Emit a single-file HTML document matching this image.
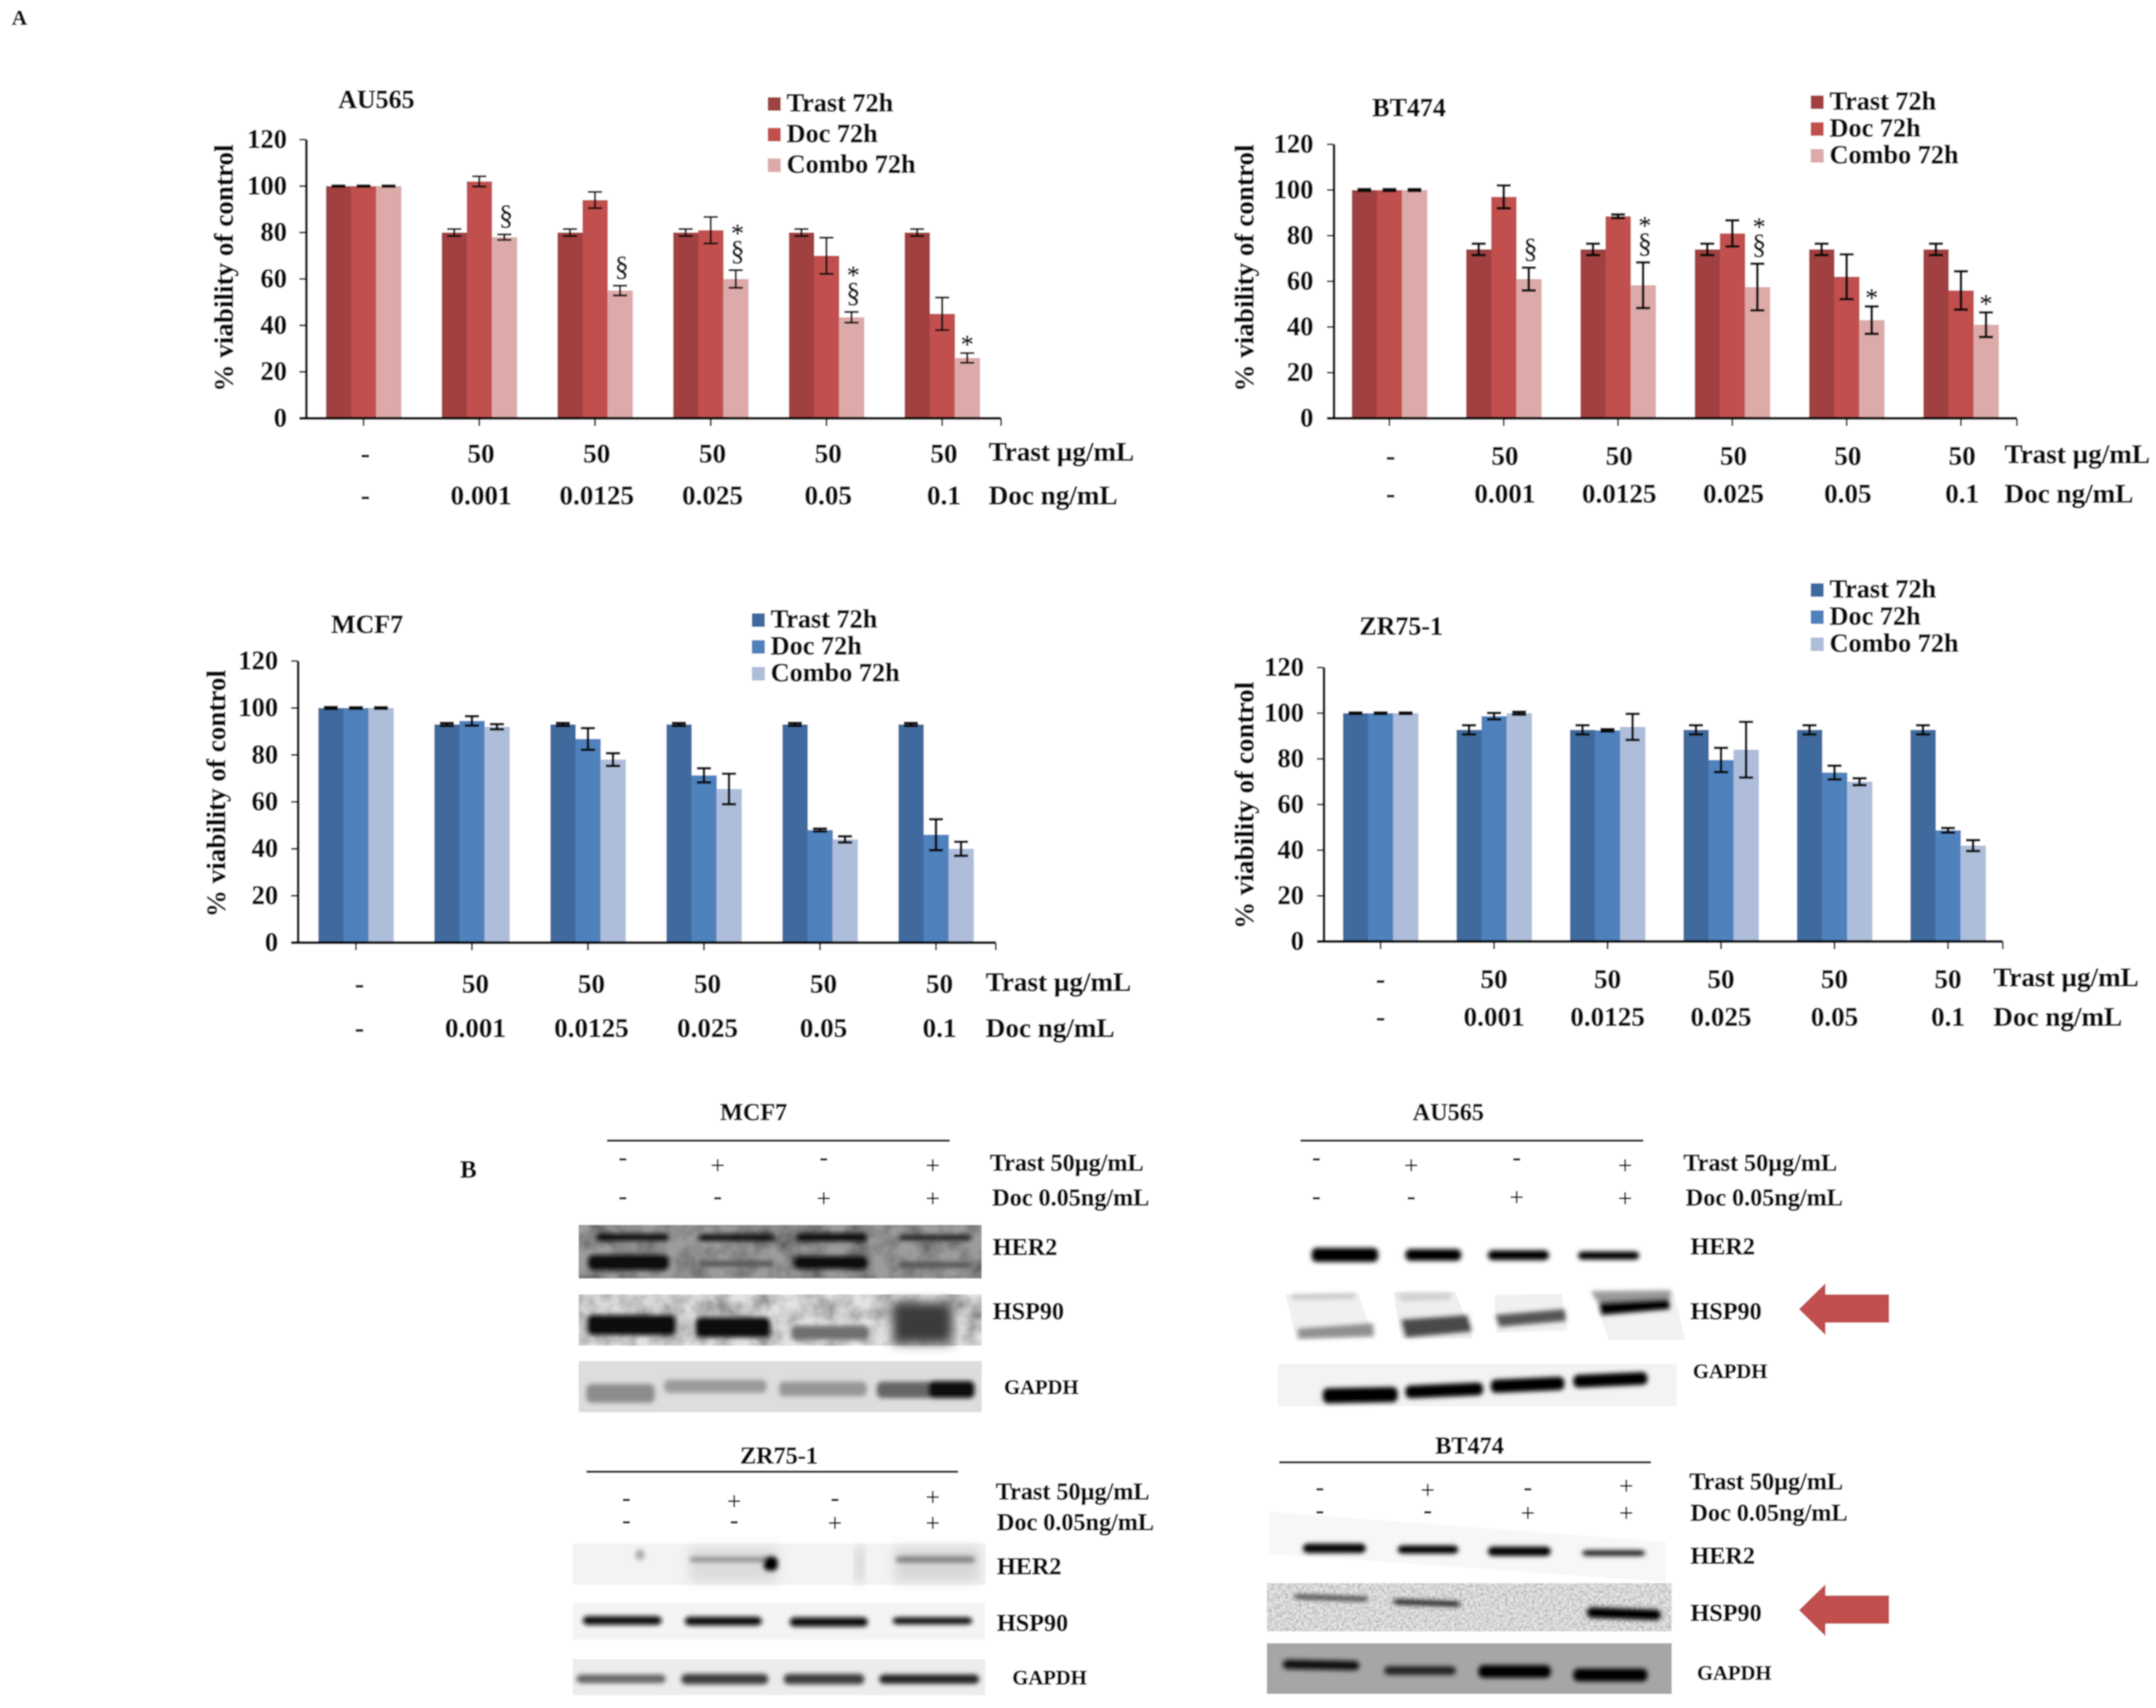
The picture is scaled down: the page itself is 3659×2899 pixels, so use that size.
<!DOCTYPE html>
<html lang="en">
<head>
<meta charset="utf-8">
<title>Viability and western blot figure</title>
<style>
html,body{margin:0;padding:0;background:#fff;width:3659px;height:2899px;overflow:hidden}
svg{display:block}
text{font-family:"Liberation Serif",serif;font-weight:bold;fill:#0c0c0c;stroke:#0c0c0c;stroke-width:.8px}
.w{font-size:41px}
.g{font-size:35px}
.sym{font-size:42px;font-weight:normal;text-anchor:middle}
g[filter="url(#b3)"] rect{rx:9px;ry:9px}
</style>
</head>
<body>
<svg id="figure" xmlns="http://www.w3.org/2000/svg" width="3659" height="2899" viewBox="0 0 3659 2899">
<defs>
<filter id="soft" filterUnits="userSpaceOnUse" x="0" y="0" width="3659" height="2899"><feGaussianBlur stdDeviation="1"/></filter>
<filter id="b3" x="-20%" y="-60%" width="140%" height="220%"><feGaussianBlur stdDeviation="4"/></filter>
<filter id="b8" x="-30%" y="-30%" width="160%" height="160%"><feGaussianBlur stdDeviation="9"/></filter>
<filter id="grainCoarse" x="0" y="0" width="100%" height="100%"><feTurbulence type="fractalNoise" baseFrequency="0.025" numOctaves="3" seed="4" result="n"/><feColorMatrix in="n" type="matrix" values="0 0 0 0 0 0 0 0 0 0 0 0 0 0 0 1.3 0 0 0 -0.45" result="d"/><feComposite in="d" in2="SourceGraphic" operator="in" result="c"/><feMerge><feMergeNode in="SourceGraphic"/><feMergeNode in="c"/></feMerge></filter>
<filter id="grainFine" x="0" y="0" width="100%" height="100%"><feTurbulence type="fractalNoise" baseFrequency="0.22" numOctaves="2" seed="9" result="n"/><feColorMatrix in="n" type="matrix" values="0 0 0 0 0 0 0 0 0 0 0 0 0 0 0 0.9 0 0 0 -0.3" result="d"/><feComposite in="d" in2="SourceGraphic" operator="in" result="c"/><feMerge><feMergeNode in="SourceGraphic"/><feMergeNode in="c"/></feMerge></filter>
</defs>
<g id="root" filter="url(#soft)">
<rect width="3659" height="2899" fill="#fff"/>
<text x="20" y="42" font-size="36">A</text>
<text x="781" y="1999" font-size="42">B</text>

<!-- MCF7 blots -->
<g>
<text x="1279" y="1901" class="w" text-anchor="middle">MCF7</text>
<rect x="1030" y="1934" width="582" height="4" fill="#111"/>
<text x="1057" y="1978" class="sym">-</text>
<text x="1218" y="1992" class="sym">+</text>
<text x="1398" y="1978" class="sym">-</text>
<text x="1583" y="1992" class="sym">+</text>
<text x="1057" y="2044" class="sym">-</text>
<text x="1218" y="2044" class="sym">-</text>
<text x="1398" y="2048" class="sym">+</text>
<text x="1583" y="2048" class="sym">+</text>
<text x="1680" y="1987" class="w">Trast 50µg/mL</text>
<text x="1684" y="2046" class="w">Doc 0.05ng/mL</text>
<g>
<rect x="982" y="2079" width="684" height="91" fill="#9c9c9c" filter="url(#grainCoarse)"/>
<g filter="url(#b3)" fill="#0c0c0c">
<rect x="1011" y="2094" width="125" height="12"/><rect x="1185" y="2095" width="129" height="11"/><rect x="1351" y="2093" width="120" height="14"/><rect x="1525" y="2096" width="125" height="9" fill="#222"/>
<rect x="998" y="2130" width="137" height="26"/><rect x="1185" y="2140" width="129" height="10" fill="#555"/><rect x="1347" y="2132" width="125" height="22"/><rect x="1525" y="2142" width="125" height="10" fill="#555"/>
</g></g>
<text x="1685" y="2130" class="w">HER2</text>
<g>
<rect x="982" y="2197" width="684" height="87" fill="#e2e2e2" filter="url(#grainCoarse)"/>
<g filter="url(#b3)" fill="#0a0a0a">
<rect x="997" y="2232" width="149" height="34"/><rect x="1181" y="2236" width="126" height="34"/><rect x="1343" y="2250" width="132" height="24" fill="#707070"/>
</g>
<rect x="1515" y="2210" width="100" height="70" fill="#3a3a3a" filter="url(#b8)"/>
</g>
<text x="1685" y="2239" class="w">HSP90</text>
<g>
<rect x="982" y="2310" width="684" height="87" fill="#dddddd"/>
<g filter="url(#b3)">
<rect x="995" y="2349" width="116" height="32" fill="#8c8c8c"/><rect x="1127" y="2342" width="174" height="22" fill="#9a9a9a"/><rect x="1322" y="2345" width="149" height="25" fill="#979797"/><rect x="1488" y="2345" width="100" height="28" fill="#666"/><rect x="1575" y="2344" width="79" height="29" fill="#0a0a0a"/>
</g></g>
<text x="1704" y="2366" class="g">GAPDH</text>
</g>

<!-- ZR75-1 blots -->
<g>
<text x="1322" y="2484" class="w" text-anchor="middle">ZR75-1</text>
<rect x="995" y="2496" width="631" height="4" fill="#111"/>
<text x="1063" y="2556" class="sym">-</text>
<text x="1246" y="2562" class="sym">+</text>
<text x="1417" y="2556" class="sym">-</text>
<text x="1583" y="2555" class="sym">+</text>
<text x="1063" y="2594" class="sym">-</text>
<text x="1246" y="2594" class="sym">-</text>
<text x="1417" y="2599" class="sym">+</text>
<text x="1583" y="2599" class="sym">+</text>
<text x="1690" y="2545" class="w">Trast 50µg/mL</text>
<text x="1692" y="2597" class="w">Doc 0.05ng/mL</text>
<g>
<rect x="972" y="2620" width="700" height="70" fill="#f3f3f3"/>
<rect x="1170" y="2625" width="150" height="60" fill="#dcdcdc" filter="url(#b8)"/><rect x="1518" y="2625" width="145" height="60" fill="#d8d8d8" filter="url(#b8)"/><rect x="1452" y="2625" width="14" height="60" fill="#d0d0d0" filter="url(#b8)"/>
<g filter="url(#b3)">
<rect x="1170" y="2643" width="140" height="8" fill="#8a8a8a"/><rect x="1520" y="2642" width="135" height="10" fill="#7c7c7c"/><rect x="1296" y="2642" width="24" height="24" fill="#000"/><rect x="1078" y="2630" width="16" height="18" fill="#aaa"/>
</g></g>
<text x="1692" y="2672" class="w">HER2</text>
<g>
<rect x="972" y="2720" width="700" height="63" fill="#f4f4f4"/>
<g filter="url(#b3)" fill="#0c0c0c">
<rect x="989" y="2743" width="134" height="15"/><rect x="1162" y="2744" width="131" height="15"/><rect x="1340" y="2745" width="133" height="16"/><rect x="1515" y="2745" width="135" height="12"/>
</g></g>
<text x="1692" y="2768" class="w">HSP90</text>
<g>
<rect x="972" y="2816" width="700" height="61" fill="#ececec"/>
<g filter="url(#b3)">
<rect x="978" y="2842" width="152" height="15" fill="#666"/><rect x="1156" y="2841" width="148" height="18" fill="#3c3c3c"/><rect x="1330" y="2841" width="137" height="18" fill="#3c3c3c"/><rect x="1492" y="2842" width="170" height="16" fill="#222"/>
</g></g>
<text x="1718" y="2859" class="g">GAPDH</text>
</g>

<!-- AU565 blots -->
<g>
<text x="2458" y="1901" class="w" text-anchor="middle">AU565</text>
<rect x="2207" y="1934" width="582" height="4" fill="#111"/>
<text x="2234" y="1978" class="sym">-</text>
<text x="2395" y="1992" class="sym">+</text>
<text x="2574" y="1978" class="sym">-</text>
<text x="2758" y="1992" class="sym">+</text>
<text x="2234" y="2044" class="sym">-</text>
<text x="2395" y="2044" class="sym">-</text>
<text x="2574" y="2046" class="sym">+</text>
<text x="2758" y="2048" class="sym">+</text>
<text x="2857" y="1987" class="w">Trast 50µg/mL</text>
<text x="2861" y="2046" class="w">Doc 0.05ng/mL</text>
<g filter="url(#b3)" fill="#060606">
<rect x="2226" y="2118" width="113" height="24"/><rect x="2385" y="2120" width="95" height="20"/><rect x="2525" y="2122" width="104" height="17"/><rect x="2678" y="2124" width="104" height="14"/>
</g>
<text x="2869" y="2129" class="w">HER2</text>
<g>
<polygon points="2182,2197 2305,2195 2330,2270 2200,2274" fill="#f0f0f0"/>
<polygon points="2365,2193 2470,2193 2500,2272 2378,2272" fill="#eeeeee"/>
<polygon points="2536,2198 2650,2196 2660,2258 2540,2262" fill="#f0f0f0"/>
<polygon points="2700,2190 2840,2190 2860,2274 2730,2274" fill="#f2f2f2"/>
<g filter="url(#b3)">
<polygon points="2190,2197 2300,2195 2300,2204 2195,2206" fill="#c8c8c8"/>
<polygon points="2372,2195 2462,2195 2462,2206 2378,2208" fill="#cfcfcf"/>
<polygon points="2202,2255 2330,2246 2332,2268 2204,2272" fill="#8f8f8f"/>
<polygon points="2378,2240 2490,2232 2498,2260 2386,2270" fill="#4a4a4a"/>
<polygon points="2538,2232 2655,2222 2658,2242 2545,2252" fill="#555"/>
<polygon points="2714,2210 2832,2200 2834,2222 2718,2232" fill="#050505"/>
<polygon points="2700,2192 2835,2190 2835,2204 2712,2210" fill="#9a9a9a"/>
</g></g>
<text x="2869" y="2239" class="w">HSP90</text>
<path d="M3053 2222 L3098 2178 V2197 H3206 V2245 H3098 V2266 Z" fill="#c0504d"/>
<g>
<rect x="2169" y="2315" width="677" height="72" fill="#f3f3f3"/>
<g filter="url(#b3)" fill="#050505">
<rect x="2245" y="2355" width="127" height="26" transform="rotate(-1 2308 2368)"/><rect x="2385" y="2349" width="132" height="22" transform="rotate(-2.5 2451 2360)"/><rect x="2530" y="2339" width="125" height="23" transform="rotate(-2.5 2592 2351)"/><rect x="2670" y="2331" width="126" height="22" transform="rotate(-2.5 2733 2343)"/>
</g></g>
<text x="2873" y="2339" class="g">GAPDH</text>
</g>

<!-- BT474 blots -->
<g>
<text x="2494" y="2467" class="w" text-anchor="middle">BT474</text>
<rect x="2171" y="2480" width="631" height="4" fill="#111"/>
<text x="2240" y="2538" class="sym">-</text>
<text x="2423" y="2543" class="sym">+</text>
<text x="2593" y="2538" class="sym">-</text>
<text x="2760" y="2536" class="sym">+</text>
<text x="2240" y="2577" class="sym">-</text>
<text x="2423" y="2577" class="sym">-</text>
<text x="2593" y="2582" class="sym">+</text>
<text x="2760" y="2582" class="sym">+</text>
<text x="2867" y="2528" class="w">Trast 50µg/mL</text>
<text x="2869" y="2581" class="w">Doc 0.05ng/mL</text>
<g>
<polygon points="2154,2566 2827,2617 2827,2685 2154,2637" fill="#f7f7f7"/>
<g filter="url(#b3)" fill="#060606">
<rect x="2211" y="2620" width="107" height="16"/><rect x="2372" y="2623" width="103" height="14"/><rect x="2525" y="2625" width="107" height="16"/><rect x="2685" y="2631" width="107" height="10" fill="#222"/>
</g></g>
<text x="2869" y="2654" class="w">HER2</text>
<g>
<rect x="2150" y="2687" width="687" height="82" fill="#e6e6e6" filter="url(#grainFine)"/>
<g filter="url(#b3)">
<rect x="2196" y="2708" width="126" height="8" fill="#444" transform="rotate(2 2259 2712)"/><rect x="2364" y="2716" width="115" height="9" fill="#222" transform="rotate(2 2420 2720)"/><rect x="2693" y="2730" width="126" height="18" fill="#050505" transform="rotate(2 2756 2739)"/>
</g></g>
<text x="2869" y="2751" class="w">HSP90</text>
<path d="M3053 2733 L3098 2689 V2708 H3206 V2756 H3098 V2777 Z" fill="#c0504d"/>
<g>
<rect x="2150" y="2789" width="687" height="86" fill="#a6a6a6"/>
<g filter="url(#b3)">
<rect x="2177" y="2818" width="130" height="16" fill="#111" transform="rotate(1 2242 2826)"/><rect x="2349" y="2828" width="122" height="15" fill="#222"/><rect x="2509" y="2826" width="123" height="22" fill="#050505"/><rect x="2670" y="2832" width="126" height="22" fill="#050505"/>
</g></g>
<text x="2880" y="2851" class="g">GAPDH</text>
</g>
</g>

<script>
// ---- shared chart data ----
const yTickValues = [0, 20, 40, 60, 80, 100, 120];
const seriesNames = ['Trast 72h', 'Doc 72h', 'Combo 72h'];
const trastDoseLabels = ['-', '50', '50', '50', '50', '50'];
const docDoseLabels = ['-', '0.001', '0.0125', '0.025', '0.05', '0.1'];

// ---- AU565 ----
const auTrast = [100, 80, 80, 80, 80, 80];
const auDoc = [100, 102, 94, 81, 70, 45];
const auCombo = [100, 78, 55, 60, 43.5, 26];
const auTrastErr = [0.3, 1.5, 1.5, 1.5, 1.5, 1.5];
const auDocErr = [0.3, 2.2, 3.5, 5.7, 7.8, 7];
const auComboErr = [0.3, 1.2, 2.1, 3.8, 2.3, 2.1];
const auMarks = ['', '§', '§', '*§', '*§', '*'];

// ---- BT474 ----
const btTrast = [100, 74, 74, 74, 74, 74];
const btDoc = [100, 97, 88.5, 81, 62, 56];
const btCombo = [100, 61, 58.3, 57.5, 43, 41];
const btTrastErr = [0.4, 2.5, 2.5, 2.5, 2.5, 2.5];
const btDocErr = [0.4, 5, 0.8, 5.7, 9.8, 8.4];
const btComboErr = [0.4, 5, 10, 10.2, 6, 5.4];
const btMarks = ['', '§', '*§', '*§', '*', '*'];

// ---- MCF7 ----
const mcfTrast = [100, 93, 93, 93, 93, 93];
const mcfDoc = [100, 94.5, 86.8, 71.3, 48, 46];
const mcfCombo = [100, 92, 78, 65.5, 44, 40];
const mcfTrastErr = [0.4, 0.6, 0.6, 0.6, 0.6, 0.6];
const mcfDocErr = [0.3, 2, 4.6, 3, 0.6, 6.6];
const mcfComboErr = [0.3, 1.1, 2.7, 6.5, 1.3, 3];

// ---- ZR75-1 ----
const zrTrast = [100, 92.7, 92.7, 92.7, 92.7, 92.7];
const zrDoc = [100, 98.7, 92.5, 79.5, 74, 48.7];
const zrCombo = [100, 100, 94, 84, 70, 42];
const zrTrastErr = [0.3, 2, 2, 2, 2, 2];
const zrDocErr = [0.3, 1.4, 0.5, 5.3, 3, 1];
const zrComboErr = [0.3, 0.6, 5.7, 12.2, 1.5, 2.4];

const redPalette = ['#a0413f', '#c0504d', '#dcaaa9'];
const bluePalette = ['#3f6a9e', '#4f81bd', '#aebdda'];

const NS = 'http://www.w3.org/2000/svg';
const root = document.getElementById('root');

function el(parent, tag, attrs) {
  const n = document.createElementNS(NS, tag);
  for (const k in attrs) n.setAttribute(k, attrs[k]);
  parent.appendChild(n);
  return n;
}
function label(parent, str, name, attrs) {
  const t = el(parent, 'text', attrs);
  t.textContent = str;
  
  
  return t;
}

function drawChart(c) {
  const g = el(root, 'g', {});
  
  
  const y = v => c.base - v * (c.base - c.top) / 120;
  const x = i => c.x0 + i * c.step;
  const barW = 42.5;
  const series = [c.trast, c.doc, c.combo];
  const errs = [c.trastErr, c.docErr, c.comboErr];
  const keys = ['trast', 'doc', 'combo'];

  // bars
  series.forEach((vals, s) => {
    vals.forEach((v, i) => {
      const r = el(g, 'rect', {x: x(i) + (s - 1.5) * barW, y: y(v), width: barW + 0.5, height: c.base - y(v), fill: c.colors[s]});
      
      
    });
  });
  // error bars
  errs.forEach((vals, s) => {
    vals.forEach((e, i) => {
      const cx = x(i) + (s - 1) * barW;
      const hi = y(series[s][i] + e), lo = y(series[s][i] - e);
      const p = el(g, 'path', {d: 'M' + (cx - 12) + ' ' + hi + 'H' + (cx + 12) + 'M' + cx + ' ' + hi + 'V' + lo + 'M' + (cx - 12) + ' ' + lo + 'H' + (cx + 12), stroke: '#0a0a0a', 'stroke-width': c.errW, fill: 'none'});
      
      
    });
  });
  // axes
  const yAxis = el(g, 'path', {d: 'M' + c.ax + ' ' + c.top + 'V' + c.base, stroke: '#0a0a0a', 'stroke-width': 4.5, fill: 'none'});
  
  
  const xAxis = el(g, 'path', {d: 'M' + (c.ax - 12) + ' ' + c.base + 'H' + c.right, stroke: '#0a0a0a', 'stroke-width': 5, fill: 'none'});
  
  
  const endTick = el(g, 'path', {d: 'M' + c.right + ' ' + c.base + 'v13', stroke: '#0a0a0a', 'stroke-width': 3});
  
  
  trastDoseLabels.forEach((_, i) => {
    const t = el(g, 'path', {d: 'M' + x(i) + ' ' + c.base + 'v13', stroke: '#0a0a0a', 'stroke-width': 3});
    
    
  });
  yTickValues.forEach(v => {
    const t = el(g, 'path', {d: 'M' + (c.ax - 12) + ' ' + y(v) + 'H' + c.ax, stroke: '#0a0a0a', 'stroke-width': 3});
    
    
    label(g, String(v), c.id + '-y-tick-label-' + v, {x: c.tickX, y: y(v) + 14, 'font-size': 45, 'text-anchor': 'end'});
  });
  // axis title
  label(g, '% viability of control', c.id + '-y-axis-title', {x: 0, y: 0, 'font-size': 46, 'text-anchor': 'middle', transform: 'translate(' + (c.titleX + 14) + ' ' + c.titleY + ') rotate(-90)'});
  // chart title
  label(g, c.title, c.id + '-title', {x: c.nameX, y: c.nameY, 'font-size': 44});
  // legend
  seriesNames.forEach((n, s) => {
    const ly = c.legY + s * c.legGap;
    const sw = el(g, 'rect', {x: c.legX, y: ly - 24, width: 22, height: 23, fill: c.colors[s]});
    
    
    label(g, n, c.id + '-legend-entry-' + keys[s], {x: c.legX + 32, y: ly, 'font-size': 44.5});
  });
  // dose rows
  trastDoseLabels.forEach((s, i) => {
    label(g, s, c.id + '-trast-dose-' + i, {x: x(i) + c.rowDx, y: c.row1, 'font-size': 46, 'text-anchor': 'middle'});
  });
  docDoseLabels.forEach((s, i) => {
    label(g, s, c.id + '-doc-dose-' + i, {x: x(i) + c.rowDx, y: c.row2, 'font-size': 46, 'text-anchor': 'middle'});
  });
  label(g, 'Trast µg/mL', c.id + '-trast-row-label', {x: c.endX, y: c.row1 - 3, 'font-size': 46});
  label(g, 'Doc ng/mL', c.id + '-doc-row-label', {x: c.endX, y: c.row2, 'font-size': 46});
  // significance marks
  (c.marks || []).forEach((m, i) => {
    if (!m) return;
    const top = y(c.combo[i] + c.comboErr[i]);
    const mx = x(i) + barW;
    if (m.includes('§')) {
      label(g, '§', c.id + '-section-mark-' + i, {x: mx + 3, y: top - 17, 'font-size': 48, style: 'font-weight:normal', 'text-anchor': 'middle'});
      if (m.includes('*')) {
        label(g, '*', c.id + '-star-mark-' + i, {x: mx + 3, y: top - 48, 'font-size': 44, 'text-anchor': 'middle', style: 'font-weight:normal'});
      }
    } else {
      label(g, '*', c.id + '-star-mark-' + i, {x: mx, y: top, 'font-size': 44, 'text-anchor': 'middle', style: 'font-weight:normal'});
    }
  });
}

drawChart({id: 'au565', title: 'AU565', trast: auTrast, doc: auDoc, combo: auCombo, trastErr: auTrastErr, docErr: auDocErr, comboErr: auComboErr, marks: auMarks, colors: redPalette, errW: 3.5,
  ax: 520, top: 237, base: 710, right: 1699, x0: 617, step: 196.4, tickX: 487, titleX: 381, titleY: 455, nameX: 574, nameY: 183, legX: 1303, legY: 189, legGap: 52, row1: 785, row2: 856, rowDx: 3, endX: 1678});
drawChart({id: 'bt474', title: 'BT474', trast: btTrast, doc: btDoc, combo: btCombo, trastErr: btTrastErr, docErr: btDocErr, comboErr: btComboErr, marks: btMarks, colors: redPalette, errW: 4.5,
  ax: 2264, top: 245, base: 710, right: 3423, x0: 2358, step: 194, tickX: 2229, titleX: 2113, titleY: 455, nameX: 2329, nameY: 197, legX: 3073, legY: 186, legGap: 45.5, row1: 789, row2: 853, rowDx: 2, endX: 3402});
drawChart({id: 'mcf7', title: 'MCF7', trast: mcfTrast, doc: mcfDoc, combo: mcfCombo, trastErr: mcfTrastErr, docErr: mcfDocErr, comboErr: mcfComboErr, marks: [], colors: bluePalette, errW: 4.5,
  ax: 506, top: 1122, base: 1600, right: 1690, x0: 604, step: 196.9, tickX: 472, titleX: 368, titleY: 1347, nameX: 562, nameY: 1074, legX: 1276, legY: 1065, legGap: 45.5, row1: 1685, row2: 1760, rowDx: 6, endX: 1673});
drawChart({id: 'zr75-1', title: 'ZR75-1', trast: zrTrast, doc: zrDoc, combo: zrCombo, trastErr: zrTrastErr, docErr: zrDocErr, comboErr: zrComboErr, marks: [], colors: bluePalette, errW: 4.5,
  ax: 2247, top: 1133, base: 1598, right: 3399, x0: 2343, step: 192.6, tickX: 2213, titleX: 2113, titleY: 1367, nameX: 2307, nameY: 1077, legX: 3073, legY: 1014, legGap: 46, row1: 1677, row2: 1741, rowDx: 0, endX: 3383});
</script>
</svg>
</body>
</html>
